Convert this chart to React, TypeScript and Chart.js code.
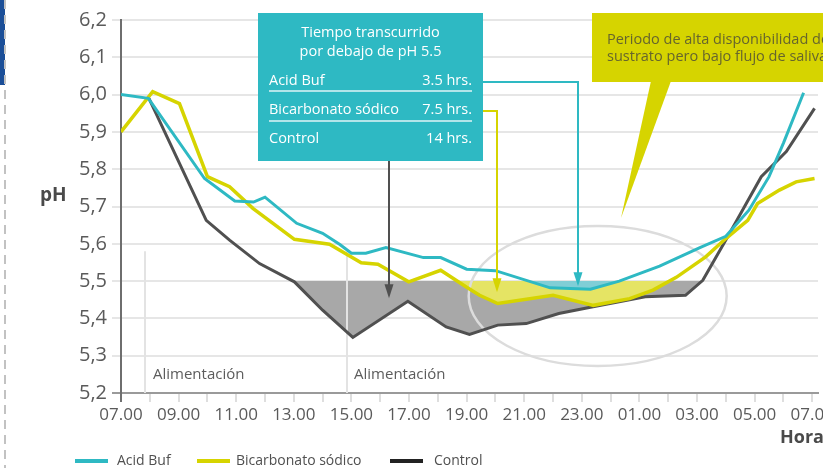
import React, { useEffect, useRef } from 'react';
import { Chart, registerables } from 'chart.js';

Chart.register(...registerables);

// ---------- data ----------
const xTickLabels = ['07.00', '09.00', '11.00', '13.00', '15.00', '17.00', '19.00', '21.00', '23.00', '01.00', '03.00', '05.00', '07.00'];
const yTickLabels = ['5,2', '5,3', '5,4', '5,5', '5,6', '5,7', '5,8', '5,9', '6,0', '6,1', '6,2'];
const seriesNames = ['Acid Buf', 'Bicarbonato sódico', 'Control'];

// hours elapsed since 07.00
const acidBufHours = [0, 0.95, 2.9, 3.95, 4.6, 5.0, 6.1, 7.0, 7.6, 8.0, 8.5, 9.2, 10.5, 11.1, 12.0, 13.0, 14.9, 16.3, 17.3, 18.7, 20.1, 21.0, 21.8, 22.5, 23.0, 23.7];
const acidBufPH = [6.0, 5.99, 5.775, 5.715, 5.712, 5.725, 5.655, 5.628, 5.598, 5.575, 5.575, 5.59, 5.563, 5.563, 5.532, 5.528, 5.482, 5.478, 5.5, 5.54, 5.59, 5.62, 5.69, 5.78, 5.87, 6.005];

const bicarbHours = [0, 1.1, 2.03, 3.0, 3.77, 4.58, 6.02, 7.24, 8.34, 8.92, 9.99, 11.1, 11.99, 12.45, 13.08, 15.0, 16.4, 17.66, 18.47, 19.28, 20.3, 21.0, 21.76, 22.1, 22.86, 23.44, 24.08];
const bicarbPH = [5.9, 6.008, 5.976, 5.78, 5.753, 5.695, 5.612, 5.599, 5.549, 5.545, 5.498, 5.529, 5.484, 5.462, 5.44, 5.462, 5.435, 5.453, 5.476, 5.51, 5.565, 5.614, 5.663, 5.708, 5.744, 5.766, 5.775];

const controlHours = [0.97, 2.96, 3.77, 4.81, 6.02, 7.0, 8.05, 9.96, 11.29, 12.1, 13.08, 14.07, 15.2, 16.3, 18.2, 19.6, 20.2, 21.0, 22.23, 23.1, 24.08];
const controlPH = [5.99, 5.663, 5.61, 5.547, 5.498, 5.422, 5.349, 5.446, 5.377, 5.357, 5.382, 5.386, 5.413, 5.43, 5.458, 5.462, 5.502, 5.61, 5.78, 5.847, 5.963];

const thresholdPH = 5.5;
const timeBelowLabels = ['3.5 hrs.', '7.5 hrs.', '14 hrs.'];
const infoTitle = ['Tiempo transcurrido', 'por debajo de pH 5.5'];
const calloutText = ['Periodo de alta disponibilidad de', 'sustrato pero bajo flujo de saliva'];
const feedingHours = [0.85, 7.83];
const feedingLabel = 'Alimentación';
const arrowTipHours = [15.85, 13.04, 9.29];
const arrowTipPH = [5.486, 5.47, 5.454];

// ---------- styles ----------
const FONT = '"Open Sans", "Liberation Sans", sans-serif';
const CYAN = 'rgb(46,185,195)';
const YELLOW = 'rgb(214,212,0)';
const GRAY = 'rgb(80,80,80)';
const fills = ['rgb(128,206,214)', 'rgb(229,228,100)', 'rgb(168,168,168)'];
const lineColors = [CYAN, YELLOW, GRAY];
const legendColors = [CYAN, YELLOW, 'rgb(34,34,34)'];

const toPoints = (hs: number[], vs: number[]) => hs.map((h, i) => ({ x: h, y: vs[i] }));

function arrowHead(ctx: CanvasRenderingContext2D, x: number, tipY: number, color: string) {
  ctx.fillStyle = color;
  ctx.beginPath();
  ctx.moveTo(x - 4.5, tipY - 14);
  ctx.lineTo(x + 4.5, tipY - 14);
  ctx.lineTo(x, tipY);
  ctx.closePath();
  ctx.fill();
}

const overlay = {
  id: 'overlay',
  beforeDatasetsDraw(chart: any) {
    const { ctx, chartArea } = chart;
    const x = chart.scales.x;
    const y = chart.scales.y;
    ctx.save();
    // feeding markers
    ctx.strokeStyle = '#e3e3e3';
    ctx.lineWidth = 2;
    feedingHours.forEach((h) => {
      const px = Math.round(x.getPixelForValue(h));
      ctx.beginPath();
      ctx.moveTo(px, y.getPixelForValue(5.58));
      ctx.lineTo(px, chartArea.bottom);
      ctx.stroke();
    });
    ctx.fillStyle = '#5c5c5c';
    ctx.font = `15px ${FONT}`;
    ctx.textBaseline = 'middle';
    ctx.textAlign = 'left';
    feedingHours.forEach((h) => {
      ctx.fillText(feedingLabel, x.getPixelForValue(h) + 7.5, y.getPixelForValue(5.25));
    });
    // highlight ellipse
    ctx.strokeStyle = '#dcdcdc';
    ctx.lineWidth = 2.5;
    ctx.beginPath();
    ctx.ellipse(x.getPixelForValue(16.55), y.getPixelForValue(5.46), 129, 70, 0, 0, Math.PI * 2);
    ctx.stroke();
    ctx.restore();
  },
  afterDatasetsDraw(chart: any) {
    const { ctx } = chart;
    const x = chart.scales.x;
    const y = chart.scales.y;
    ctx.save();

    const bx0 = 258, by0 = 13, bx1 = 483, by1 = 161;
    ctx.lineWidth = 2;
    const rowY = [82, 111, 140];
    {
      const ax = Math.round(x.getPixelForValue(arrowTipHours[0]));
      const ty = y.getPixelForValue(arrowTipPH[0]);
      ctx.strokeStyle = CYAN;
      ctx.beginPath();
      ctx.moveTo(bx1, rowY[0]);
      ctx.lineTo(ax, rowY[0]);
      ctx.lineTo(ax, ty - 10);
      ctx.stroke();
      arrowHead(ctx, ax, ty, CYAN);
    }
    {
      const ax = Math.round(x.getPixelForValue(arrowTipHours[1]));
      const ty = y.getPixelForValue(arrowTipPH[1]);
      ctx.strokeStyle = YELLOW;
      ctx.beginPath();
      ctx.moveTo(bx1, rowY[1]);
      ctx.lineTo(ax, rowY[1]);
      ctx.lineTo(ax, ty - 10);
      ctx.stroke();
      arrowHead(ctx, ax, ty, YELLOW);
    }
    {
      const ax = Math.round(x.getPixelForValue(arrowTipHours[2]));
      const ty = y.getPixelForValue(arrowTipPH[2]);
      ctx.strokeStyle = GRAY;
      ctx.beginPath();
      ctx.moveTo(ax, by1);
      ctx.lineTo(ax, ty - 10);
      ctx.stroke();
      arrowHead(ctx, ax, ty, GRAY);
    }

    ctx.fillStyle = CYAN;
    ctx.fillRect(bx0, by0, bx1 - bx0, by1 - by0);
    ctx.fillStyle = '#ffffff';
    ctx.font = `14.5px ${FONT}`;
    ctx.textBaseline = 'middle';
    ctx.textAlign = 'center';
    ctx.fillText(infoTitle[0], (bx0 + bx1) / 2, 33);
    ctx.fillText(infoTitle[1], (bx0 + bx1) / 2, 52);
    const rx0 = 269, rx1 = 472;
    seriesNames.forEach((n, i) => {
      ctx.textAlign = 'left';
      ctx.fillText(n, rx0, rowY[i] - 1);
      ctx.textAlign = 'right';
      ctx.fillText(timeBelowLabels[i], rx1, rowY[i] - 1);
    });
    ctx.strokeStyle = 'rgba(255,255,255,0.85)';
    ctx.lineWidth = 1.5;
    [91, 121].forEach((ly) => {
      ctx.beginPath();
      ctx.moveTo(rx0, ly);
      ctx.lineTo(rx1, ly);
      ctx.stroke();
    });

    // right callout
    ctx.fillStyle = YELLOW;
    ctx.fillRect(592, 13, 400, 69);
    ctx.beginPath();
    ctx.moveTo(651, 81);
    ctx.lineTo(671, 81);
    ctx.lineTo(621, 218);
    ctx.closePath();
    ctx.fill();
    ctx.fillStyle = '#66652c';
    ctx.font = `14.5px ${FONT}`;
    ctx.textAlign = 'left';
    ctx.fillText(calloutText[0], 607, 40);
    ctx.fillText(calloutText[1], 607, 57);

    // axis titles
    ctx.fillStyle = '#4a4a4a';
    ctx.font = `bold 19px ${FONT}`;
    ctx.fillText('pH', 40, 196);
    ctx.font = `bold 18px ${FONT}`;
    ctx.fillText('Horas', 780, 438);

    // legend
    ctx.font = `14px ${FONT}`;
    ctx.fillStyle = '#505050';
    const legX = [75, 197, 390];
    const legT = [117, 236, 434];
    seriesNames.forEach((n, i) => {
      ctx.strokeStyle = legendColors[i];
      ctx.lineWidth = 4;
      ctx.beginPath();
      ctx.moveTo(legX[i], 461);
      ctx.lineTo(legX[i] + 33, 461);
      ctx.stroke();
      ctx.fillText(n, legT[i], 461);
    });
    ctx.restore();
  },
};

export default function App() {
  const ref = useRef<HTMLCanvasElement | null>(null);
  useEffect(() => {
    document.body.style.margin = '0';
    const canvas = ref.current;
    if (!canvas) return;
    Chart.defaults.font.family = FONT;
    const datasets = [
      toPoints(acidBufHours, acidBufPH),
      toPoints(bicarbHours, bicarbPH),
      toPoints(controlHours, controlPH),
    ].map((pts, i) => ({
      label: seriesNames[i],
      data: pts,
      borderColor: lineColors[i],
      borderWidth: i === 1 ? 3.5 : 3,
      pointRadius: 0,
      tension: 0,
      fill: { target: { value: thresholdPH }, above: 'rgba(0,0,0,0)', below: fills[i] },
    }));
    const chart = new Chart(canvas, {
      type: 'line',
      data: { datasets },
      options: {
        responsive: false,
        animation: false,
        layout: { padding: { top: 20, right: 62, left: 0, bottom: 0 } },
        plugins: {
          legend: { display: false },
          tooltip: { enabled: false },
          filler: { drawTime: 'beforeDatasetsDraw' },
        },
        scales: {
          x: {
            type: 'linear',
            min: 0,
            max: 24.2,
            ticks: {
              stepSize: 1,
              autoSkip: false,
              maxRotation: 0,
              includeBounds: false,
              padding: 3,
              color: '#5a5a5a',
              font: { size: 17, family: FONT },
              callback: (v: any) => (Number(v) % 2 === 0 ? xTickLabels[Number(v) / 2] : ''),
            },
            grid: {
              drawOnChartArea: false,
              drawTicks: true,
              tickLength: 9,
              lineWidth: 2,
              color: (c: any) => (c.tick && c.tick.value === 0 ? '#707070' : '#dedede'),
            },
            border: { color: '#9a9a9a', width: 2 },
            afterFit: (s: any) => {
              s.height = 75;
            },
          },
          y: {
            min: 5.2,
            max: 6.2,
            ticks: {
              stepSize: 0.1,
              padding: 5,
              color: '#5a5a5a',
              font: { size: 20, family: FONT },
              callback: (v: any) => yTickLabels[Math.round((Number(v) - 5.2) * 10)],
            },
            grid: {
              tickLength: 9,
              lineWidth: 2,
              color: (c: any) => (c.tick && Math.abs(c.tick.value - 5.2) < 1e-6 ? '#9a9a9a' : '#e6e6e6'),
            },
            border: { color: '#6e6e6e', width: 2 },
            afterFit: (s: any) => {
              s.width = 121;
            },
          },
        },
      },
      plugins: [overlay],
    } as any);
    return () => chart.destroy();
  }, []);

  return (
    <div style={{ position: 'fixed', left: 0, top: 0, width: 823, height: 468, overflow: 'hidden', background: '#fff' }}>
      <canvas ref={ref} width={880} height={468} style={{ position: 'absolute', left: 0, top: 0, width: 880, height: 468 }} />
      <div style={{ position: 'absolute', left: 0, top: 0, width: 5, height: 85, background: '#1c4f98' }} />
      <div
        style={{
          position: 'absolute',
          left: 4,
          top: 0,
          width: 2,
          height: 468,
          backgroundImage: 'linear-gradient(to bottom, #c2c2c2 0px, #c2c2c2 9px, transparent 9px, transparent 15px)',
          backgroundSize: '2px 15px',
        }}
      />
    </div>
  );
}
